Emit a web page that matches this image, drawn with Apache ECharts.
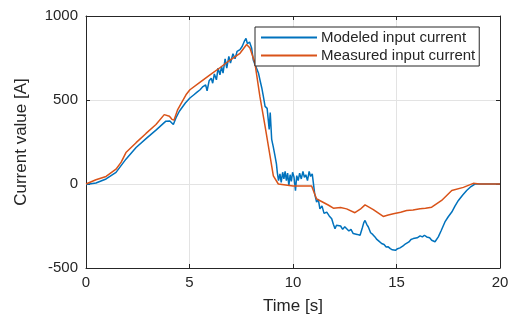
<!DOCTYPE html>
<html>
<head>
<meta charset="utf-8">
<script src="https://cdn.jsdelivr.net/npm/echarts@6/dist/echarts.min.js"></script>
<style>
  html, body { margin: 0; padding: 0; background: #fff; }
  #chart { width: 513px; height: 320px; }
</style>
</head>
<body>
<div id="chart"></div>
<script>
// time [s] and current [A]
const timeMeasured = [0, 0.48, 0.97, 1.45, 1.7, 1.93, 2.42, 2.9, 3.38, 3.78, 4.03, 4.15, 4.25, 4.43, 4.83,
  5.02, 5.5, 5.99, 6.5, 6.96, 7.44, 7.76, 7.92, 8.16, 8.4, 8.65, 8.89, 9.05, 9.29, 10.0, 10.9,
  11.14, 11.38, 11.7, 11.95, 12.3, 12.59, 12.99, 13.25, 13.48, 13.88, 14.36, 14.6, 14.85, 15.2, 15.49,
  15.8, 16.14, 16.4, 16.7, 17.18, 17.67, 18.23, 18.71, 19.0, 20];
const measured = [0, 25, 45, 88, 130, 187, 246, 301, 354, 413, 403, 385, 380, 443, 531,
  561, 605, 650, 695, 738, 778, 830, 809, 720, 521, 344, 167, 49, 0, -12, -12,
  -89, -104, -125, -144, -140, -148, -171, -150, -124, -152, -193, -185, -177, -168, -158,
  -155, -148, -145, -138, -98, -39, -20, 4, 0, 0];

const timeModeled = [0, 0.48, 0.97, 1.45, 1.93, 2.42, 2.9, 3.38, 3.86, 4.05, 4.22, 4.35, 4.51, 4.8,
  5.02, 5.2, 5.35, 5.51, 5.65, 5.78, 5.85, 5.95, 6.05, 6.12, 6.2, 6.3, 6.38, 6.47, 6.55, 6.62,
  6.72, 6.8, 6.9, 6.98, 7.1, 7.2, 7.3, 7.44, 7.55, 7.65, 7.73, 7.8, 7.9, 8.0, 8.08, 8.2, 8.33,
  8.42, 8.49, 8.57, 8.65, 8.75, 8.81, 8.85, 8.9, 8.97, 9.05, 9.13, 9.2, 9.24, 9.3, 9.37, 9.43,
  9.5, 9.56, 9.62, 9.68, 9.74, 9.8, 9.86, 9.92, 9.98, 10.05, 10.12, 10.18, 10.25, 10.32, 10.4,
  10.48, 10.55, 10.62, 10.7, 10.78, 10.85, 10.93, 10.98, 11.05, 11.14, 11.22, 11.3, 11.4, 11.5,
  11.63, 11.75, 11.87, 11.95, 12.03, 12.1, 12.19, 12.3, 12.4, 12.5, 12.59, 12.7, 12.8, 12.91,
  13.0, 13.1, 13.24, 13.35, 13.42, 13.48, 13.56, 13.64, 13.75, 13.85, 13.96, 14.05, 14.15,
  14.28, 14.4, 14.5, 14.6, 14.7, 14.8, 14.88, 14.95, 15.05, 15.17, 15.3, 15.4, 15.49, 15.6,
  15.7, 15.81, 15.9, 16.0, 16.14, 16.25, 16.35, 16.46, 16.6, 16.7, 16.86, 16.95, 17.02, 17.15,
  17.34, 17.5, 17.67, 17.83, 17.99, 18.2, 18.39, 18.6, 18.79, 20];
const modeled = [-3, 6, 30, 69, 148, 217, 270, 321, 374, 375, 354, 395, 433, 482,
  512, 530, 545, 561, 580, 590, 555, 615, 630, 600, 655, 620, 690, 650, 700, 660,
  745, 690, 760, 720, 775, 745, 790, 800, 820, 850, 866, 835, 845, 810, 738, 700, 661,
  610, 573, 520, 462, 450, 443, 325, 425, 266, 220, 167, 120, 71, 20, 60, 10,
  70, 30, 75, 20, 65, -10, 55, 15, 70, 40, -40, 50, 20, 65, 30,
  75, 40, 55, 20, 75, 45, 60, 10, -60, -108, -90, -148, -130, -175,
  -167, -190, -207, -240, -266, -245, -256, -250, -270, -255, -266, -280, -270, -295,
  -285, -300, -305, -260, -230, -217, -240, -256, -290, -300, -315, -330, -340,
  -354, -360, -375, -374, -385, -392, -400, -395, -385, -380, -370, -360, -354, -345,
  -330, -325, -318, -320, -309, -315, -305, -315, -320, -335, -344, -340, -315, -280,
  -226, -195, -167, -130, -98, -65, -39, -15, 0, 0];

const xTicks = [0, 5, 10, 15, 20];
const yTicks = [-500, 0, 500, 1000];

const pairs = (xs, ys) => xs.map((x, i) => [x, ys[i]]);

const axisColor = '#262626';
const font = '"Liberation Sans", Arial, sans-serif';

const chart = echarts.init(document.getElementById('chart'));
chart.setOption({
  animation: false,
  backgroundColor: '#fff',
  grid: { left: 86, right: 13, top: 16, bottom: 50 },
  legend: {
    orient: 'vertical',
    left: 255,
    top: 27,
    backgroundColor: '#fff',
    borderColor: axisColor,
    borderWidth: 1,
    borderRadius: 0,
    padding: [3, 4, 3, 6],
    itemGap: 3,
    itemWidth: 56,
    itemHeight: 2,
    icon: 'rect',
    textStyle: { fontFamily: font, fontSize: 15, color: axisColor, padding: [0, 0, 0, -1] },
    data: ['Modeled input current', 'Measured input current']
  },
  xAxis: [{
    type: 'value',
    min: xTicks[0],
    max: xTicks[xTicks.length - 1],
    interval: 5,
    name: 'Time [s]',
    nameLocation: 'middle',
    nameGap: 30,
    nameTextStyle: { fontFamily: font, fontSize: 17, color: axisColor },
    axisLine: { show: true, onZero: false, lineStyle: { color: axisColor, width: 1 } },
    axisTick: { show: true, inside: true, length: 4, lineStyle: { color: axisColor } },
    axisLabel: { fontFamily: font, fontSize: 15, color: axisColor, margin: 7 },
    splitLine: { show: true, lineStyle: { color: '#e3e3e3', width: 1 } }
  }, {
    type: 'value',
    position: 'top',
    min: xTicks[0],
    max: xTicks[xTicks.length - 1],
    interval: 5,
    axisLine: { show: true, onZero: false, lineStyle: { color: axisColor, width: 1 } },
    axisTick: { show: true, inside: true, length: 4, lineStyle: { color: axisColor } },
    axisLabel: { show: false },
    splitLine: { show: false }
  }],
  yAxis: [{
    type: 'value',
    min: yTicks[0],
    max: yTicks[yTicks.length - 1],
    interval: 500,
    name: 'Current value [A]',
    nameLocation: 'middle',
    nameGap: 56,
    nameTextStyle: { fontFamily: font, fontSize: 17, color: axisColor },
    axisLine: { show: true, onZero: false, lineStyle: { color: axisColor, width: 1 } },
    axisTick: { show: true, inside: true, length: 4, lineStyle: { color: axisColor } },
    axisLabel: { fontFamily: font, fontSize: 15, color: axisColor, margin: 8, formatter: v => String(v) },
    splitLine: { show: true, lineStyle: { color: '#e3e3e3', width: 1 } }
  }, {
    type: 'value',
    position: 'right',
    min: yTicks[0],
    max: yTicks[yTicks.length - 1],
    interval: 500,
    axisLine: { show: true, onZero: false, lineStyle: { color: axisColor, width: 1 } },
    axisTick: { show: true, inside: true, length: 4, lineStyle: { color: axisColor } },
    axisLabel: { show: false },
    splitLine: { show: false }
  }],
  series: [{
    name: 'Modeled input current',
    type: 'line',
    showSymbol: false,
    symbol: 'none',
    color: '#0072BD',
    lineStyle: { width: 1.5, color: '#0072BD' },
    data: pairs(timeModeled, modeled)
  }, {
    name: 'Measured input current',
    type: 'line',
    showSymbol: false,
    symbol: 'none',
    color: '#D95319',
    lineStyle: { width: 1.5, color: '#D95319' },
    data: pairs(timeMeasured, measured)
  }]
});
</script>
</body>
</html>
